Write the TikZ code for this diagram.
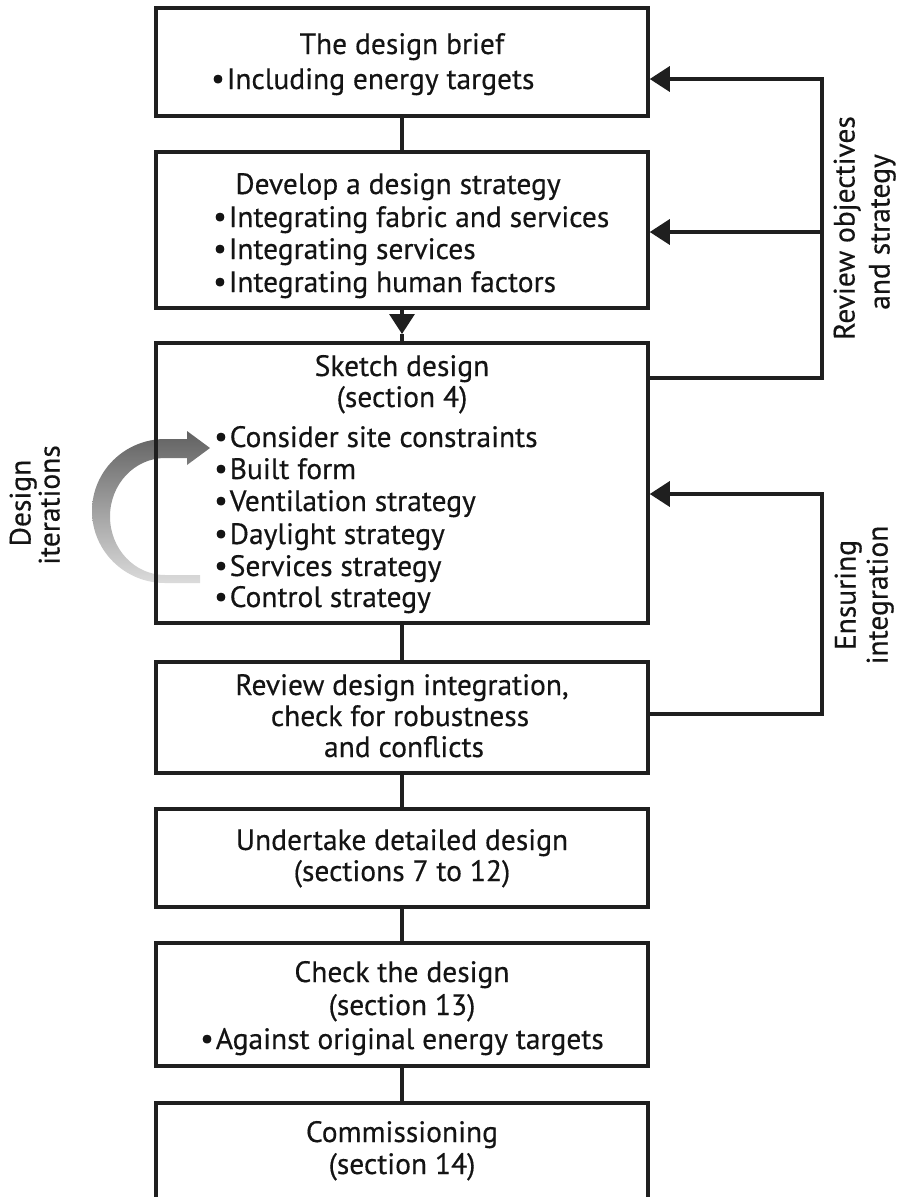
\documentclass[tikz,border=0pt]{standalone}
\usepackage{fontspec}
\setmainfont{PT Sans}[FakeBold=0.4]
\usetikzlibrary{arrows.meta}
\newcommand\bul{\raisebox{0.02em}{\fontsize{30}{30}\selectfont\textbullet}\hspace{2pt}}
\begin{document}
\begin{tikzpicture}[x=1pt,y=-1pt,
  box/.style={draw=black!88, line width=3.5pt, inner sep=0pt, minimum width=492pt},
  txt/.style={font=\fontsize{29.5}{32}\selectfont, inner sep=0pt, text=black!92},
  ln/.style={draw=black!88, line width=3.3pt},
  tip/.style={-{Triangle[length=20pt,width=25pt]}},
  side/.style={txt, rotate=90, anchor=mid}]
\useasboundingbox (0,0) rectangle (904,1197);
\clip (0,0) rectangle (904,1197);

% curved "design iterations" arrow
\path[top color=black!62, bottom color=black!14]
  (200,583) -- (165,583)
  arc[start angle=90, end angle=270, x radius=73, y radius=72]
  -- (187,439) -- (187,431) -- (210,448) -- (187,465) -- (187,458) -- (165,458)
  arc[start angle=270, end angle=90, x radius=55, y radius=58.5]
  -- (200,575) -- cycle;

% boxes
\node[box, minimum height=108pt] (b1) at (402,62) {};
\node[box, minimum height=156pt] (b2) at (402,230) {};
\node[box, minimum height=280pt] (b3) at (402,483) {};
\node[box, minimum height=111pt] (b4) at (402,717.5) {};
\node[box, minimum height=98pt]  (b5) at (402,858) {};
\node[box, minimum height=123pt] (b6) at (402,1004.5) {};
\node[box, minimum height=130pt] (b7) at (402,1168) {};

% texts
\node[txt, anchor=base] (t11) at (402,54) {The design brief};
\node[txt, anchor=base west] (t12) at (211,89) {\bul Including energy targets};

\node[txt, anchor=base] (t21) at (398,194) {Develop a design strategy};
\node[txt, anchor=base west] (t22) at (213,227) {\bul Integrating fabric and services};
\node[txt, anchor=base west] (t23) at (213,259) {\bul Integrating services};
\node[txt, anchor=base west] (t24) at (213,292) {\bul Integrating human factors};

\node[txt, anchor=base] (t31) at (402,376) {Sketch design};
\node[txt, anchor=base] (t32) at (402,407) {(section 4)};
\node[txt, anchor=base west] (t33) at (214,447) {\bul Consider site constraints};
\node[txt, anchor=base west] (t34) at (214,479) {\bul Built form};
\node[txt, anchor=base west] (t35) at (214,511) {\bul Ventilation strategy};
\node[txt, anchor=base west] (t36) at (214,544) {\bul Daylight strategy};
\node[txt, anchor=base west] (t37) at (214,576) {\bul Services strategy};
\node[txt, anchor=base west] (t38) at (214,607) {\bul Control strategy};

\node[txt, anchor=base] (t41) at (402,695) {Review design integration,};
\node[txt, anchor=base] (t42) at (400,726) {check for robustness};
\node[txt, anchor=base] (t43) at (404,757) {and conflicts};

\node[txt, anchor=base] (t51) at (402,850) {Undertake detailed design};
\node[txt, anchor=base] (t52) at (402,881) {(sections 7 to 12)};

\node[txt, anchor=base] (t61) at (402,982) {Check the design};
\node[txt, anchor=base] (t62) at (402,1015) {(section 13)};
\node[txt, anchor=base] (t63) at (402,1049) {\bul Against original energy targets};

\node[txt, anchor=base] (t71) at (402,1142) {Commissioning};
\node[txt, anchor=base] (t72) at (402,1174) {(section 14)};

% side labels
\node[side] (d1) at (28,503) {Design};
\node[side] (d2) at (57,505) {iterations};
\node[side] (r1) at (852,228) {Review objectives};
\node[side] (r2) at (887,232) {and strategy};
\node[side] (e1) at (853,595) {Ensuring};
\node[side] (e2) at (885,595) {integration};

% vertical connectors
\coordinate (m23) at (402,334);
\draw[ln] (b1.south) -- (b2.north);
\draw[ln, tip] (b2.south) -- (m23);
\draw[ln] (m23) -- (b3.north);
\draw[ln] (b3.south) -- (b4.north);
\draw[ln] (b4.south) -- (b5.north);
\draw[ln] (b5.south) -- (b6.north);
\draw[ln] (b6.south) -- (b7.north);

% feedback loops
\coordinate (ra) at (822,79);
\coordinate (rb) at (822,232);
\coordinate (rc) at (822,378);
\coordinate (ea) at (822,494);
\coordinate (eb) at (822,714);
\draw[ln, tip] (b3.east |- rc) -- (rc) -- (ra) -- (b1.east |- ra);
\draw[ln, tip] (rb) -- (b2.east |- rb);
\draw[ln, tip] (b4.east |- eb) -- (eb) -- (ea) -- (b3.east |- ea);
\end{tikzpicture}
\end{document}
